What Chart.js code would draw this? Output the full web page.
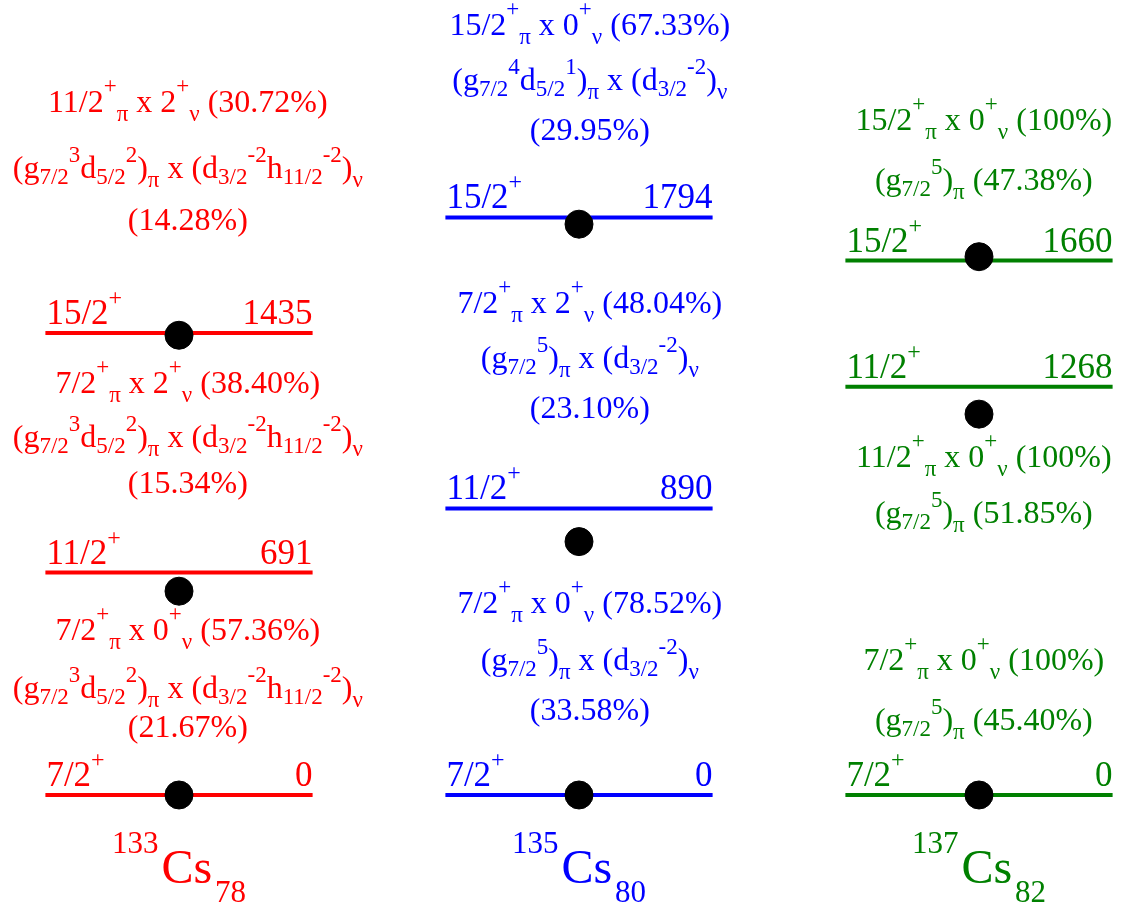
<!DOCTYPE html>
<html>
<head>
<meta charset="utf-8">
<script src="https://cdn.jsdelivr.net/npm/chart.js@4.4.1/dist/chart.umd.min.js"></script>
<style>
  html, body { margin: 0; padding: 0; background: #fff; }
  #levels { display: block; }
</style>
</head>
<body>
<canvas id="levels" width="1139" height="909"></canvas>
<script>
// nuclei, left to right
const massNumbers = [133, 135, 137];
const neutronNumbers = [78, 80, 82];
const nucleusColors = ["#ff0000", "#0000ff", "#008000"];

// experimental levels (keV) with their spins
const levelSpins = [
  ["7/2", "11/2", "15/2"],
  ["7/2", "11/2", "15/2"],
  ["7/2", "11/2", "15/2"],
];
const expEnergies = [
  [0, 691, 1435],
  [0, 890, 1794],
  [0, 1268, 1660],
];
// calculated energies (black dots)
const calcEnergies = [
  [0, 633, 1428],
  [0, 787, 1773],
  [0, 1183, 1672],
];

// wave function text per level; ^{..} superscript, _{..} subscript
const configText = [
  [
    ["7/2^{+}_{π} x 0^{+}_{ν} (57.36%)", "(g_{7/2}^{3}d_{5/2}^{2})_{π} x (d_{3/2}^{-2}h_{11/2}^{-2})_{ν}", "(21.67%)"],
    ["7/2^{+}_{π} x 2^{+}_{ν} (38.40%)", "(g_{7/2}^{3}d_{5/2}^{2})_{π} x (d_{3/2}^{-2}h_{11/2}^{-2})_{ν}", "(15.34%)"],
    ["11/2^{+}_{π} x 2^{+}_{ν} (30.72%)", "(g_{7/2}^{3}d_{5/2}^{2})_{π} x (d_{3/2}^{-2}h_{11/2}^{-2})_{ν}", "(14.28%)"],
  ],
  [
    ["7/2^{+}_{π} x 0^{+}_{ν} (78.52%)", "(g_{7/2}^{5})_{π} x (d_{3/2}^{-2})_{ν}", "(33.58%)"],
    ["7/2^{+}_{π} x 2^{+}_{ν} (48.04%)", "(g_{7/2}^{5})_{π} x (d_{3/2}^{-2})_{ν}", "(23.10%)"],
    ["15/2^{+}_{π} x 0^{+}_{ν} (67.33%)", "(g_{7/2}^{4}d_{5/2}^{1})_{π} x (d_{3/2}^{-2})_{ν}", "(29.95%)"],
  ],
  [
    ["7/2^{+}_{π} x 0^{+}_{ν} (100%)", "(g_{7/2}^{5})_{π} (45.40%)"],
    ["11/2^{+}_{π} x 0^{+}_{ν} (100%)", "(g_{7/2}^{5})_{π} (51.85%)"],
    ["15/2^{+}_{π} x 0^{+}_{ν} (100%)", "(g_{7/2}^{5})_{π} (47.38%)"],
  ],
];
// where each text line sits (baseline, in keV units of the y axis)
const configBaselines = [
  [[481, 301, 180], [1249, 1081, 938], [2121, 1916, 1755]],
  [[565, 388, 233], [1497, 1326, 1171], [2361, 2190, 2034]],
  [[388, 202], [1019, 845], [2066, 1879]],
];
const configShift = [0.022, 0.027, 0.012];
const halfWidth = 0.334;
const nameBaseline = -273;

const serif = '"Liberation Serif", "Times New Roman", serif';

// level lines, one dataset per nucleus, gaps between levels
const lineSets = massNumbers.map((a, i) => ({
  type: "line",
  label: a + "Cs",
  data: expEnergies[i].flatMap((e) => [
    { x: i + 1 - halfWidth, y: e },
    { x: i + 1 + halfWidth, y: e },
    { x: i + 1, y: null },
  ]),
  borderColor: nucleusColors[i],
  borderWidth: 4,
  pointRadius: 0,
  spanGaps: false,
  tension: 0,
}));

const dotSet = {
  type: "scatter",
  label: "SM",
  data: calcEnergies.flatMap((row, i) => row.map((e) => ({ x: i + 1, y: e }))),
  backgroundColor: "#000",
  borderColor: "#000",
  pointRadius: 14,
  pointHoverRadius: 14,
};

// split "a^{b}_{c}" into pieces
function parseRich(str) {
  const parts = [];
  const re = /([\^_])\{([^}]*)\}/g;
  let last = 0, m;
  while ((m = re.exec(str))) {
    if (m.index > last) parts.push({ t: str.slice(last, m.index), k: "n" });
    parts.push({ t: m[2], k: m[1] === "^" ? "sup" : "sub" });
    last = re.lastIndex;
  }
  if (last < str.length) parts.push({ t: str.slice(last), k: "n" });
  return parts;
}

function drawRich(ctx, str, x, y, st, align) {
  const parts = parseRich(str);
  const fontOf = (k) => (k === "n" ? st.size : st.small) + "px " + serif;
  let w = 0;
  parts.forEach((p) => {
    ctx.font = fontOf(p.k);
    p.w = ctx.measureText(p.t).width;
    w += p.w;
  });
  let cx = align === "center" ? x - w / 2 : align === "right" ? x - w : x;
  parts.forEach((p) => {
    ctx.font = fontOf(p.k);
    let dy = 0;
    if (p.k === "sup") dy = p.t === "+" ? -st.upPlus : -st.up;
    if (p.k === "sub") dy = /[πν]/.test(p.t) && p.t.length === 1 ? st.downGreek : st.down;
    ctx.fillText(p.t, cx, y + dy);
    cx += p.w;
  });
}

const textPlugin = {
  id: "levelText",
  afterDatasetsDraw(chart) {
    const ctx = chart.ctx;
    const xs = chart.scales.x;
    const ys = chart.scales.y;
    ctx.save();
    ctx.textBaseline = "alphabetic";
    ctx.textAlign = "left";
    const cfgStyle = { size: 32, small: 23, up: 16, upPlus: 19, down: 6, downGreek: 9 };
    const lvlStyle = { size: 35, small: 24, up: 18, upPlus: 19, down: 8, downGreek: 8 };
    massNumbers.forEach((a, i) => {
      ctx.fillStyle = nucleusColors[i];
      // spin and energy on each level
      expEnergies[i].forEach((e, j) => {
        const yb = ys.getPixelForValue(e) - 9;
        drawRich(ctx, levelSpins[i][j] + "^{+}", xs.getPixelForValue(i + 1 - halfWidth) + 1, yb, lvlStyle, "left");
        drawRich(ctx, String(e), xs.getPixelForValue(i + 1 + halfWidth), yb, lvlStyle, "right");
      });
      // wave function composition
      configText[i].forEach((lines, j) => {
        lines.forEach((ln, k) => {
          drawRich(ctx, ln, xs.getPixelForValue(i + 1 + configShift[i]),
            ys.getPixelForValue(configBaselines[i][j][k]), cfgStyle, "center");
        });
      });
      // nucleus name
      const yb = ys.getPixelForValue(nameBaseline);
      ctx.font = "31px " + serif;
      const wA = ctx.measureText(String(a)).width;
      const wN = ctx.measureText(String(neutronNumbers[i])).width;
      ctx.font = "48px " + serif;
      const wC = ctx.measureText("Cs").width;
      let x0 = xs.getPixelForValue(i + 1) - (wA + wC + wN + 6) / 2;
      ctx.font = "31px " + serif;
      ctx.fillText(String(a), x0, yb - 30);
      ctx.font = "48px " + serif;
      ctx.fillText("Cs", x0 + wA + 3, yb);
      ctx.font = "31px " + serif;
      ctx.fillText(String(neutronNumbers[i]), x0 + wA + wC + 6, yb + 19);
    });
    ctx.restore();
  },
};

new Chart(document.getElementById("levels"), {
  type: "line",
  data: { datasets: [dotSet, ...lineSets] },
  options: {
    responsive: false,
    animation: false,
    layout: { padding: 0, autoPadding: false },
    scales: {
      x: { type: "linear", min: 0.5525, max: 3.4, display: false },
      y: { type: "linear", min: -354.1, max: 2469.3, display: false },
    },
    plugins: { legend: { display: false }, tooltip: { enabled: false } },
  },
  plugins: [textPlugin],
});
</script>
</body>
</html>
